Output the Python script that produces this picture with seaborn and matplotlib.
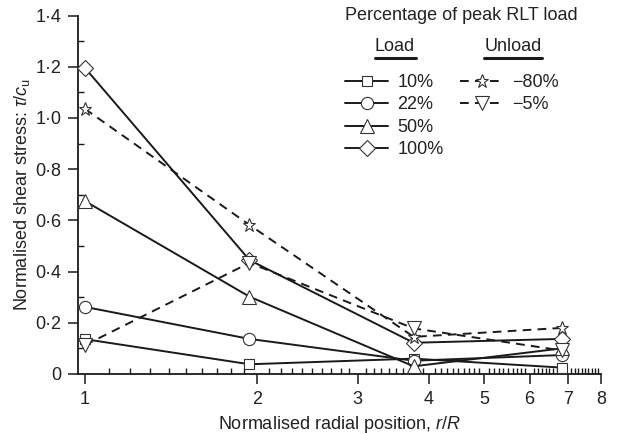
import numpy as np
import pandas as pd
import matplotlib
matplotlib.use("Agg")
import matplotlib.pyplot as plt
from matplotlib.ticker import FixedLocator, FixedFormatter, NullFormatter
from matplotlib.lines import Line2D
import seaborn as sns

# ---- data ----
r_pos = [1.0, 1.94, 3.76, 6.83]
load_10 = [0.136, 0.038, 0.06, 0.025]
load_22 = [0.262, 0.137, 0.052, 0.074]
load_50 = [0.675, 0.302, 0.03, 0.10]
load_100 = [1.195, 0.445, 0.122, 0.137]
unload_80 = [1.035, 0.582, 0.145, 0.18]
unload_5 = [0.113, 0.434, 0.178, 0.092]

load_labels = ["10%", "22%", "50%", "100%"]
unload_labels = ["\u221280%", "\u22125%"]
y_ticks = [0, 0.2, 0.4, 0.6, 0.8, 1.0, 1.2, 1.4]
y_ticklabels = ["0", "0\u00b72", "0\u00b74", "0\u00b76", "0\u00b78", "1\u00b70", "1\u00b72", "1\u00b74"]
x_ticks = [1, 2, 3, 4, 5, 6, 7, 8]

sns.set_style("ticks")
plt.rcParams["font.family"] = ["Liberation Sans", "DejaVu Sans"]
plt.rcParams["mathtext.fontset"] = "custom"
plt.rcParams["mathtext.rm"] = "Liberation Sans"
plt.rcParams["mathtext.it"] = "Liberation Sans:italic"

FS = 13
TC = "#222222"
fig = plt.figure(figsize=(6.19, 4.34), dpi=100)
W, H = 619, 434
ax = fig.add_axes([78 / W, 1 - 374 / H, (601 - 78) / W, (374 - 15.5) / H])

LC = "#1a1a1a"
EC = "#333333"
dash = (0, (4.5, 3.2))

series = [
    (load_10, "s", 7.5, "-", load_labels[0]),
    (load_22, "o", 8.8, "-", load_labels[1]),
    (load_50, "^", 9.8, "-", load_labels[2]),
    (load_100, "D", 7.8, "-", load_labels[3]),
    (unload_80, "*", 9.8, dash, unload_labels[0]),
    (unload_5, "v", 9.8, dash, unload_labels[1]),
]

handles = []
for vals, mk, ms, ls, lab in series:
    df = pd.DataFrame({"r": r_pos, "t": vals})
    sns.lineplot(data=df, x="r", y="t", ax=ax, color=LC, linewidth=1.4,
                 linestyle=ls, marker=mk, markersize=ms, markerfacecolor="white",
                 markeredgecolor=EC, markeredgewidth=0.8, sort=False,
                 estimator=None, legend=False, clip_on=False, zorder=3)
    handles.append(Line2D([], [], color=LC, linewidth=1.4, linestyle=ls, marker=mk,
                          markersize=ms, markerfacecolor="white", markeredgecolor=EC,
                          markeredgewidth=0.8))

ax.set_xscale("log")
ax.set_xlim(0.972, 8)
ax.set_ylim(0, 1.4)
ax.xaxis.set_major_locator(FixedLocator(x_ticks))
ax.xaxis.set_major_formatter(FixedFormatter([str(v) for v in x_ticks]))
minor_x = [round(v, 1) for v in np.arange(1.1, 8.0, 0.1) if abs(v - round(v)) > 1e-6]
ax.xaxis.set_minor_locator(FixedLocator(minor_x))
ax.xaxis.set_minor_formatter(NullFormatter())
ax.yaxis.set_major_locator(FixedLocator(y_ticks))
ax.yaxis.set_major_formatter(FixedFormatter(y_ticklabels))
ax.yaxis.set_minor_locator(FixedLocator([0.1, 0.3, 0.5, 0.7, 0.9, 1.1, 1.3]))

ax.tick_params(which="major", direction="out", length=7, width=1.1, color=LC,
               labelsize=FS, labelcolor=TC)
ax.tick_params(axis="x", which="major", pad=5.5)
ax.tick_params(axis="y", which="major", pad=5)
ax.tick_params(which="minor", direction="in", length=4, width=1.0, color=LC)
for s in ["top", "right"]:
    ax.spines[s].set_visible(False)
for s in ["left", "bottom"]:
    ax.spines[s].set_linewidth(1.3)
    ax.spines[s].set_color(LC)

ax.set_xlabel("Normalised radial position, $r/R$", fontsize=FS, color=TC, labelpad=4)
ax.set_ylabel("Normalised shear stress: $\\tau/c_\\mathrm{u}$", fontsize=FS, color=TC, labelpad=2)

# legend headings
fig.text(461.7 / W, 1 - 15.7 / H, "Percentage of peak RLT load", ha="center", va="center",
         fontsize=FS, color=TC)
fig.text(395 / W, 1 - 46.7 / H, "Load", ha="center", va="center", fontsize=FS, color=TC)
fig.text(513 / W, 1 - 46.7 / H, "Unload", ha="center", va="center", fontsize=FS, color=TC)
fig.add_artist(Line2D([375 / W, 416 / W], [1 - 58.3 / H] * 2, color=LC, linewidth=2.2))
fig.add_artist(Line2D([484 / W, 542 / W], [1 - 58.3 / H] * 2, color=LC, linewidth=2.2))

leg_kw = dict(frameon=False, fontsize=FS, handlelength=2.4, handletextpad=0.5,
              borderpad=0, borderaxespad=0, labelspacing=0.3, labelcolor=TC)
leg1 = fig.legend(handles[:4], load_labels, loc="upper left",
                  bbox_to_anchor=(345 / W, 1 - 74 / H), **leg_kw)
leg2 = fig.legend(handles[4:], unload_labels, loc="upper left",
                  bbox_to_anchor=(460 / W, 1 - 74 / H), **leg_kw)

fig.savefig("out.png", dpi=100)
